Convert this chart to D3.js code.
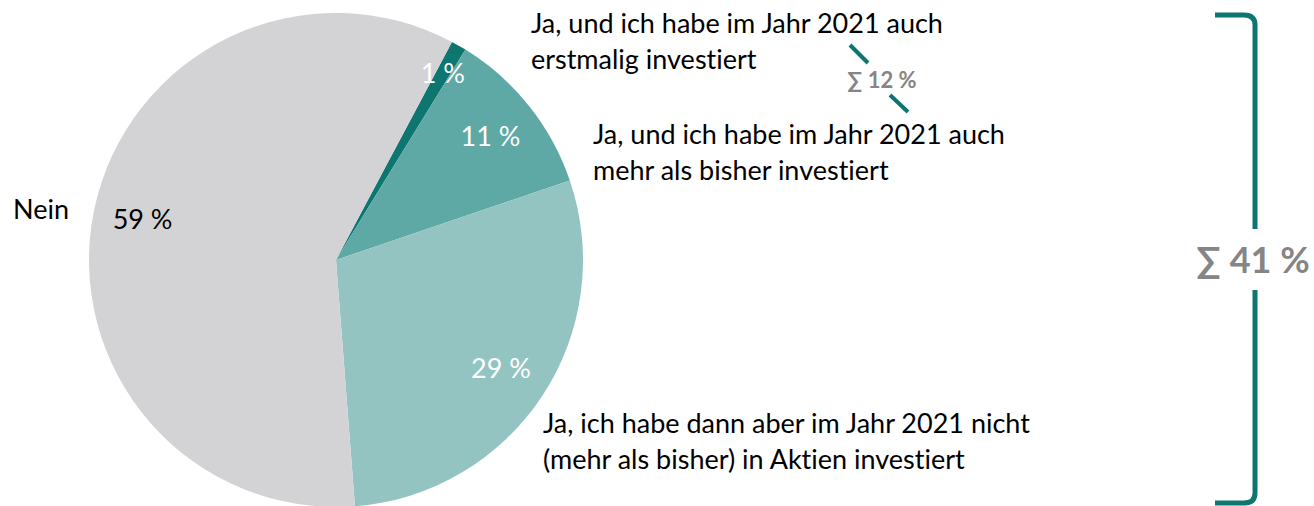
<!DOCTYPE html>
<html>
<head>
<meta charset="utf-8">
<script src="https://cdn.jsdelivr.net/npm/d3@7"></script>
<style>
  body { margin: 0; background: #fff; }
  svg text { font-family: Lato, "Open Sans", sans-serif; font-variant-ligatures: none; }
</style>
</head>
<body>
<svg id="chart" width="1314" height="506"></svg>
<script>
// slice data, clockwise from the small dark slice
var categories = ['erstmalig', 'mehr', 'nicht', 'Nein'];
var values = [1, 11, 29, 59];
var valueLabels = ['1 %', '11 %', '29 %', '59 %'];
var sliceColors = ['#0e7670', '#5ea8a5', '#94c4c1', '#d3d3d5'];
var labelColors = ['#fff', '#fff', '#fff', '#000'];

var legendLines = [
  ['Ja, und ich habe im Jahr 2021 auch', 'erstmalig investiert'],
  ['Ja, und ich habe im Jahr 2021 auch', 'mehr als bisher investiert'],
  ['Ja, ich habe dann aber im Jahr 2021 nicht', '(mehr als bisher) in Aktien investiert'],
  ['Nein']
];
var sumSmall = '\u2211 12 %';
var sumBig = '\u2211 41 %';

var svg = d3.select('#chart');
var cx = 336, cy = 260, radius = 247;
var fontSize = 27;

var pie = d3.pie().sort(null).value(function (d) { return d; })
  .startAngle(28 * Math.PI / 180)
  .endAngle(28 * Math.PI / 180 + 2 * Math.PI);
var arcs = pie(values);
var arc = d3.arc().innerRadius(0).outerRadius(radius);

var g = svg.append('g').attr('transform', 'translate(' + cx + ',' + cy + ')');

g.selectAll('path')
  .data(arcs)
  .enter()
  .append('path')
  .attr('d', arc)
  .attr('fill', function (d, i) { return sliceColors[i]; });

// percent labels inside slices, radius picked per slice
var labelRadius = [0.87, 0.80, 0.80, 0.80];
g.selectAll('text.pct')
  .data(arcs)
  .enter()
  .append('text')
  .attr('class', 'pct')
  .attr('transform', function (d, i) {
    var a = (d.startAngle + d.endAngle) / 2;
    var r = radius * labelRadius[i];
    return 'translate(' + (Math.sin(a) * r) + ',' + (-Math.cos(a) * r) + ')';
  })
  .attr('text-anchor', 'middle')
  .attr('dy', '0.35em')
  .attr('font-size', fontSize)
  .attr('fill', function (d, i) { return labelColors[i]; })
  .text(function (d, i) { return valueLabels[i]; });

// category labels
var legendPos = [[531, 33], [593, 144], [543, 433], [13, 219]];
legendLines.forEach(function (lines, i) {
  var t = svg.append('text')
    .attr('x', legendPos[i][0])
    .attr('y', legendPos[i][1])
    .attr('font-size', fontSize)
    .attr('fill', '#000');
  lines.forEach(function (l, j) {
    t.append('tspan')
      .attr('x', legendPos[i][0])
      .attr('dy', j === 0 ? 0 : 35.5)
      .text(l);
  });
});

// small sum marker between the two top labels
var teal = '#0e7670';
svg.append('line').attr('x1', 850).attr('y1', 45).attr('x2', 868).attr('y2', 63)
  .attr('stroke', teal).attr('stroke-width', 4);
svg.append('line').attr('x1', 890).attr('y1', 95).attr('x2', 908).attr('y2', 112)
  .attr('stroke', teal).attr('stroke-width', 4);
svg.append('text')
  .attr('x', 882).attr('y', 80)
  .attr('text-anchor', 'middle').attr('dy', '0.35em')
  .attr('font-size', 22).attr('font-weight', 'bold')
  .attr('fill', '#858585')
  .text(sumSmall);

// big bracket on the right
var bx = 1255, yTop = 15, yBottom = 503;
svg.append('path')
  .attr('d', 'M1215,' + yTop + ' L1244,' + yTop + ' Q' + bx + ',' + yTop + ' ' + bx + ',' + (yTop + 10) +
    ' L' + bx + ',229')
  .attr('fill', 'none').attr('stroke', teal).attr('stroke-width', 5);
svg.append('path')
  .attr('d', 'M' + bx + ',290 L' + bx + ',' + (yBottom - 10) + ' Q' + bx + ',' + yBottom + ' 1244,' + yBottom +
    ' L1215,' + yBottom)
  .attr('fill', 'none').attr('stroke', teal).attr('stroke-width', 5);
svg.append('text')
  .attr('x', 1253).attr('y', 260)
  .attr('text-anchor', 'middle').attr('dy', '0.35em')
  .attr('font-size', 36).attr('font-weight', 'bold')
  .attr('fill', '#858585')
  .text(sumBig);
</script>
</body>
</html>
